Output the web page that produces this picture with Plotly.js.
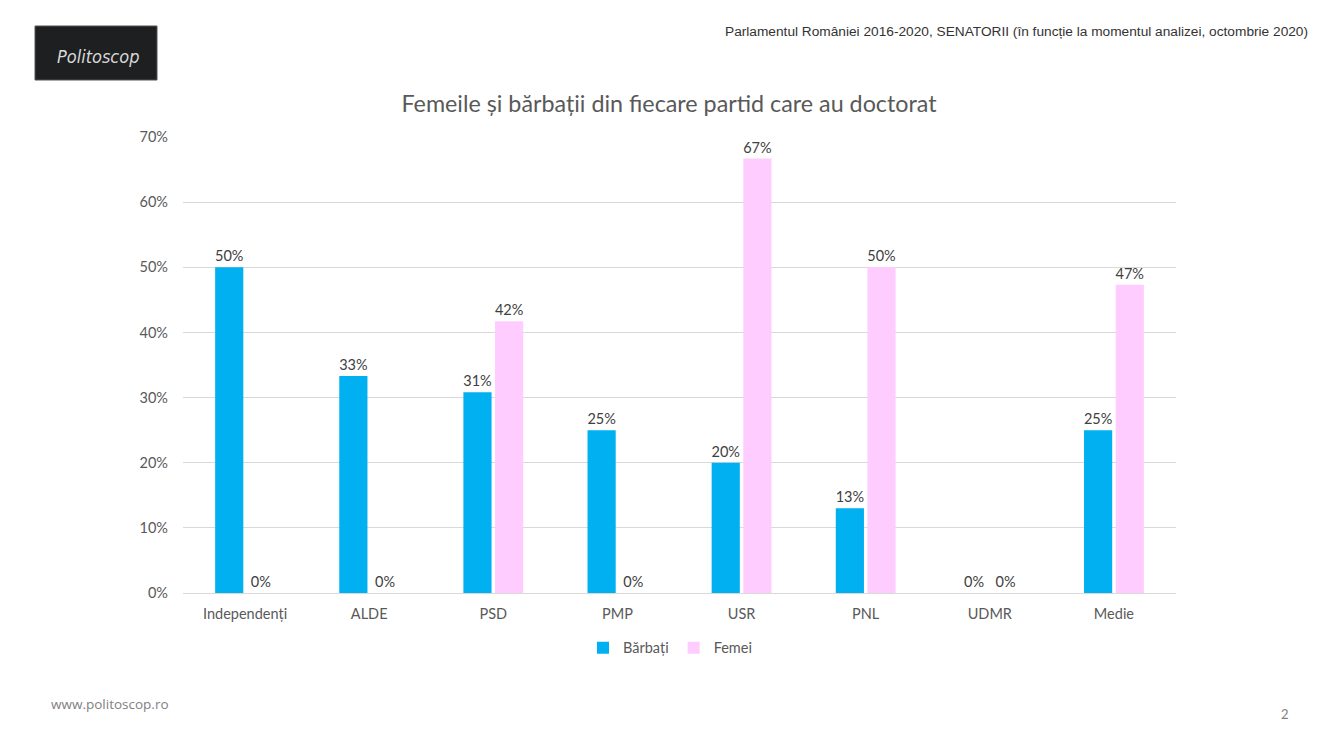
<!DOCTYPE html>
<html>
<head>
<meta charset="utf-8">
<script src="https://cdn.plot.ly/plotly-3.0.1.min.js"></script>
<style>
html,body{margin:0;padding:0;background:#fff;}
#chart{width:1332px;height:750px;}
</style>
</head>
<body>
<div id="chart"></div>
<script>
const categories = ["Independenți", "ALDE", "PSD", "PMP", "USR", "PNL", "UDMR", "Medie"];
const barbati = [50, 33.3, 30.8, 25, 20, 13, 0, 25];
const femei = [0, 0, 41.7, 0, 66.7, 50, 0, 47.3];
const seriesNames = ["Bărbați", "Femei"];
const yTicks = [0, 10, 20, 30, 40, 50, 60, 70];
const yTickLabels = ["0%", "10%", "20%", "30%", "40%", "50%", "60%", "70%"];

const labelFont = {family: "Lato, 'Open Sans', sans-serif", size: 14.5, color: "#404040"};

const traces = [
  {type: "bar", name: seriesNames[0], x: categories, y: barbati,
   marker: {color: "#00B0F0"}, texttemplate: "%{y:.0f}%", textposition: "outside",
   constraintext: "none", textfont: labelFont, cliponaxis: false, hoverinfo: "x+y"},
  {type: "bar", name: seriesNames[1], x: categories, y: femei,
   marker: {color: "#FFCCFF"}, texttemplate: "%{y:.0f}%", textposition: "outside",
   constraintext: "none", textfont: labelFont, cliponaxis: false, hoverinfo: "x+y"}
];

const layout = {
  width: 1332, height: 750,
  margin: {l: 183, r: 156, t: 137, b: 157},
  paper_bgcolor: "#ffffff", plot_bgcolor: "#ffffff",
  font: {family: "Lato, 'Open Sans', sans-serif", color: "#595959"},
  barmode: "group", bargap: 0.49, bargroupgap: 0.11,
  title: {text: "Femeile și bărbații din fiecare partid care au doctorat",
          x: (669-183)/993, xref: "paper", xanchor: "center",
          y: 1 - 104/750, yref: "container", yanchor: "middle",
          font: {family: "Lato, 'Open Sans', sans-serif", size: 23.3, color: "#595959"}},
  xaxis: {type: "category", showgrid: false, showline: true, linecolor: "#d9d9d9", linewidth: 1,
          ticks: "", tickfont: {size: 14.5, color: "#595959"}, ticklabelstandoff: 8, fixedrange: true},
  yaxis: {range: [0, 70], tickmode: "array", tickvals: yTicks, ticktext: yTickLabels,
          showgrid: true, gridcolor: "#d9d9d9",
          zeroline: false, showline: false, ticks: "", tickfont: {size: 14.5, color: "#595959"},
          ticklabelstandoff: 14, fixedrange: true},
  showlegend: true,
  legend: {orientation: "h", x: (670-183)/993, xanchor: "center", y: -0.12, yanchor: "middle",
           font: {size: 14.5, color: "#595959"}, itemwidth: 30, tracegroupgap: 0},
  shapes: [
    {type: "rect", xref: "paper", yref: "paper",
     x0: (35-183)/993, x1: (157-183)/993, y0: (593-80)/456, y1: (593-26)/456,
     fillcolor: "#1e1f21", line: {color: "#555", width: 1}}
  ],
  annotations: [
    {text: "<i>Politoscop</i>", xref: "paper", yref: "paper",
     x: (98-183)/993, y: (593-56)/456, showarrow: false, xanchor: "center", yanchor: "middle",
     font: {family: "'DejaVu Sans Condensed', 'Liberation Sans Narrow', sans-serif", size: 18, color: "#d8d8d8"}},
    {text: "Parlamentul României 2016-2020, SENATORII (în funcție la momentul analizei, octombrie 2020)",
     xref: "paper", yref: "paper", x: (1310-183)/993, y: (593-31)/456,
     xanchor: "right", yanchor: "middle", showarrow: false,
     font: {family: "'Liberation Sans', Arial, sans-serif", size: 13.7, color: "#333333"}},
    {text: "www.politoscop.ro", xref: "paper", yref: "paper", x: (49-183)/993, y: (593-704)/456,
     xanchor: "left", yanchor: "middle", showarrow: false,
     font: {family: "'Open Sans', Lato, sans-serif", size: 13.5, color: "#7f7f7f"}},
    {text: "2", xref: "paper", yref: "paper", x: (1291-183)/993, y: (593-714)/456,
     xanchor: "right", yanchor: "middle", showarrow: false,
     font: {family: "Lato, 'Open Sans', sans-serif", size: 13, color: "#7f7f7f"}}
  ]
};

Plotly.newPlot("chart", traces, layout, {displayModeBar: false, staticPlot: true});
</script>
</body>
</html>
